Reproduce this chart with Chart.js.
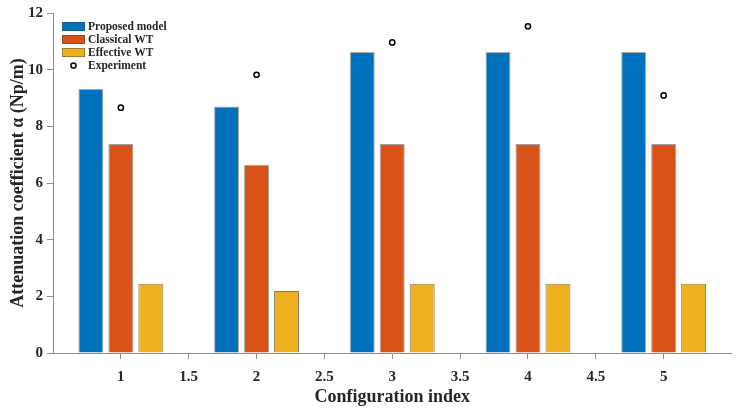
<!DOCTYPE html>
<html>
<head>
<meta charset="utf-8">
<script src="https://cdn.jsdelivr.net/npm/chart.js@4.4.1/dist/chart.umd.min.js"></script>
<style>
  html, body { margin: 0; padding: 0; background: #fff; }
  #wrap { width: 737px; height: 412px; }
</style>
</head>
<body>
<div id="wrap"><canvas id="attChart"></canvas></div>
<script>
// configuration index on the x axis
var configs = [1, 2, 3, 4, 5];
var proposedModel = [9.32, 8.70, 10.62, 10.62, 10.62];
var classicalWT = [7.38, 6.64, 7.38, 7.38, 7.38];
var effectiveWT = [2.44, 2.19, 2.44, 2.44, 2.44];
var experiment = [8.66, 9.82, 10.96, 11.53, 9.09];
var xTicks = [1, 1.5, 2, 2.5, 3, 3.5, 4, 4.5, 5];
var yTicks = [0, 2, 4, 6, 8, 10, 12];

function pts(vals) {
  return configs.map(function (c, i) { return { x: c, y: vals[i] }; });
}

var serif = '"Liberation Serif", "Times New Roman", serif';
var axisGrey = '#8f8f8f';
var textCol = '#262626';

// legend drawn inside the plot, top left, like the original figure
var insideLegend = {
  id: 'insideLegend',
  afterDraw: function (chart) {
    var ctx = chart.ctx;
    var area = chart.chartArea;
    var x0 = area.left + 9;
    var y0 = area.top + 9;
    ctx.save();
    ctx.font = 'bold 11.5px ' + serif;
    ctx.textBaseline = 'middle';
    chart.data.datasets.forEach(function (ds, i) {
      var cy = y0 + 4.5 + i * 13;
      if (ds.type === 'scatter') {
        ctx.beginPath();
        ctx.arc(x0 + 11.5, cy, 2.6, 0, Math.PI * 2);
        ctx.fillStyle = '#fff';
        ctx.fill();
        ctx.lineWidth = 1.5;
        ctx.strokeStyle = '#000';
        ctx.stroke();
      } else {
        ctx.fillStyle = ds.backgroundColor;
        ctx.fillRect(x0, cy - 4.5, 23, 9);
        ctx.lineWidth = 0.8;
        ctx.strokeStyle = 'rgba(60,60,60,0.55)';
        ctx.strokeRect(x0 + 0.4, cy - 4.1, 22.2, 8.2);
      }
      ctx.fillStyle = textCol;
      ctx.fillText(ds.label, x0 + 26, cy + 0.5);
    });
    ctx.restore();
  }
};

var ctx = document.getElementById('attChart').getContext('2d');
var chart = new Chart(ctx, {
  type: 'bar',
  data: {
    datasets: [{
      label: 'Proposed model',
      data: pts(proposedModel),
      backgroundColor: '#0072BD',
      borderColor: 'rgba(70,70,70,0.45)',
      borderWidth: 1
    }, {
      label: 'Classical WT',
      data: pts(classicalWT),
      backgroundColor: '#D95319',
      borderColor: 'rgba(70,70,70,0.5)',
      borderWidth: 1
    }, {
      label: 'Effective WT',
      data: pts(effectiveWT),
      backgroundColor: '#EDB120',
      borderColor: 'rgba(90,70,20,0.7)',
      borderWidth: 1
    }, {
      type: 'scatter',
      label: 'Experiment',
      data: pts(experiment),
      pointStyle: 'circle',
      pointRadius: 2.6,
      pointBorderWidth: 1.5,
      borderColor: '#000',
      backgroundColor: '#fff'
    }]
  },
  options: {
    responsive: true,
    maintainAspectRatio: false,
    animation: false,
    categoryPercentage: 1.325,
    barPercentage: 0.833,
    layout: { padding: { top: 13, right: 5, left: 0, bottom: 0 } },
    plugins: {
      legend: { display: false },
      tooltip: { enabled: false }
    },
    scales: {
      x: {
        type: 'linear',
        min: 0.5,
        max: 5.5,
        offset: false,
        afterBuildTicks: function (axis) {
          axis.ticks = xTicks.map(function (v) { return { value: v }; });
        },
        afterFit: function (axis) { axis.height = 59; },
        ticks: {
          color: textCol,
          font: { family: serif, size: 15, weight: 'bold' },
          padding: 9,
          maxRotation: 0,
          callback: function (v) { return String(v); }
        },
        grid: {
          offset: false,
          drawOnChartArea: false,
          drawTicks: true,
          tickLength: 6,
          tickColor: axisGrey
        },
        border: { display: true, color: axisGrey, width: 1 },
        title: {
          display: true,
          text: 'Configuration index',
          color: textCol,
          font: { family: serif, size: 18, weight: 'bold' },
          padding: { top: 0, bottom: 4 }
        }
      },
      y: {
        type: 'linear',
        min: 0,
        max: 12,
        afterBuildTicks: function (axis) {
          axis.ticks = yTicks.map(function (v) { return { value: v }; });
        },
        afterFit: function (axis) { axis.width = 53; },
        ticks: {
          color: textCol,
          font: { family: serif, size: 15, weight: 'bold' },
          padding: 4
        },
        grid: {
          drawOnChartArea: false,
          drawTicks: true,
          tickLength: 6,
          tickWidth: 1,
          tickColor: axisGrey
        },
        border: { display: true, color: axisGrey, width: 1 },
        title: {
          display: true,
          text: 'Attenuation coefficient α (Np/m)',
          color: textCol,
          font: { family: serif, size: 18, weight: 'bold' },
          padding: { top: 8, bottom: 0 }
        }
      }
    }
  },
  plugins: [insideLegend]
});
</script>
</body>
</html>
